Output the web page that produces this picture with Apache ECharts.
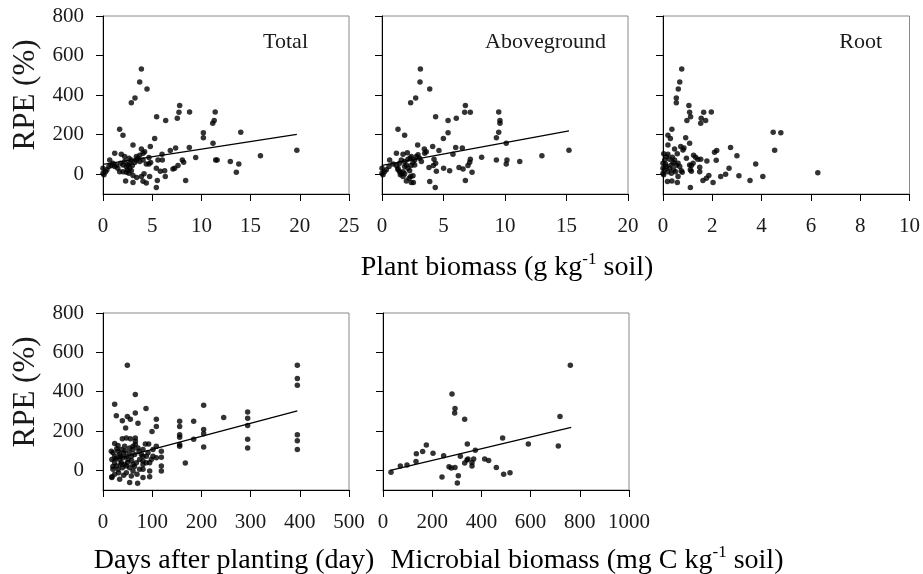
<!DOCTYPE html>
<html>
<head>
<meta charset="utf-8">
<script src="https://cdn.jsdelivr.net/npm/echarts@6/dist/echarts.min.js"></script>
<style>html,body{margin:0;padding:0;background:#fff}#c{width:923px;height:574px}</style>
</head>
<body>
<div id="c"></div>
<script>
// ---- Data ----
const yTicks = [0, 200, 400, 600, 800];
const panelLabels = ['Total', 'Aboveground', 'Root'];
const xMaxes = [25, 20, 10, 500, 1000];
const xIntervals = [5, 5, 2, 100, 200];

const totalPts = [[3.9,532],[3.73,466],[4.47,431],[3.25,385],[2.88,362],[7.79,348],[7.72,313],[8.8,315],[11.4,315],[7.55,283],[5.45,290],[6.37,271],[11.3,271],[11.15,258],[1.69,227],[2.03,197],[10.2,210],[10.2,184],[14.0,212],[5.25,180],[3.05,148],[4.81,140],[3.9,128],[7.38,133],[8.77,135],[6.84,120],[11.18,157],[1.19,106],[1.86,101],[4.23,114],[4.07,106],[6.0,101],[2.2,89],[0.68,72],[2.64,81],[3.39,89],[3.73,96],[4.67,84],[9.42,84],[16.0,93],[19.7,121],[5.59,72],[6.03,72],[8.06,72],[8.2,61],[11.45,72],[11.6,72],[12.94,64],[13.8,52],[4.67,52],[4.84,59],[7.62,44],[7.11,27],[7.28,30],[5.42,30],[5.83,15],[6.27,17],[6.33,-12],[13.55,10],[8.4,-32],[5.52,-32],[5.42,-67],[2.3,-34],[3.05,-42],[3.42,-17],[4.07,-35],[4.4,-44],[4.17,2],[4.74,-12],[3.9,-12],[3.05,-7],[0,5],[0,30],[0.1,-3],[0.27,13],[0.4,22],[0.6,39],[1.0,56],[1.35,44],[1.5,30],[1.69,13],[2.03,13],[2.37,10],[2.37,39],[2.54,47],[2.71,30],[2.88,18],[2.98,44],[3.22,59],[3.39,72],[3.56,81],[2.71,56],[2.88,72],[2.03,47],[1.19,39],[0.85,44],[2.2,64],[1.8,56],[2.47,22],[2.64,5],[3.73,64],[4.07,72],[4.4,52]];
const totalFit = [[0,50],[19.7,202]];

const abovePts = [[3.12,532],[3.09,466],[3.88,431],[2.74,385],[2.33,362],[6.78,348],[6.72,313],[7.18,313],[9.49,315],[9.59,271],[9.59,258],[5.37,271],[6.04,283],[4.36,290],[1.3,227],[1.84,197],[5.37,210],[9.49,212],[9.3,184],[4.99,180],[2.9,148],[4.12,140],[3.44,128],[5.99,135],[6.53,133],[4.63,120],[10.1,157],[1.17,106],[1.71,101],[2.06,109],[3.6,114],[3.47,106],[5.77,101],[0.62,72],[8.1,86],[13.0,93],[15.2,121],[9.3,72],[10.16,72],[10.1,52],[11.2,64],[7.18,76],[7.13,61],[6.99,44],[6.26,34],[6.59,27],[5.01,30],[5.5,17],[4.42,15],[7.32,10],[4.36,56],[4.23,76],[3.82,34],[4.17,44],[6.78,-32],[3.88,-37],[4.33,-67],[1.98,-34],[2.38,-42],[2.55,-42],[2.33,-12],[2.52,-8],[1.71,-12],[2.2,-20],[0,5],[0,30],[0.08,-3],[0.2,13],[0.35,22],[0.57,39],[0.9,52],[1.17,44],[1.3,30],[1.44,13],[1.57,5],[1.71,13],[1.84,39],[1.98,47],[2.11,30],[2.25,18],[2.38,44],[2.52,59],[2.66,72],[2.79,89],[2.93,98],[1.44,56],[1.57,72],[1.84,64],[2.11,76],[2.38,89],[1.3,22],[1.49,-3],[1.84,2],[3.06,81],[3.2,64],[2.3,81],[2.66,47]];
const aboveFit = [[0,45],[15.2,219]];

const rootPts = [[0.76,532],[0.68,466],[0.62,431],[0.54,385],[0.54,362],[1.05,348],[1.08,313],[1.65,313],[1.96,315],[1.12,290],[1.55,283],[1.73,271],[0.97,271],[1.53,258],[0.36,227],[0.2,197],[0.3,180],[0.92,184],[4.47,212],[4.78,210],[1.08,157],[0.2,148],[0.72,140],[0.85,133],[2.74,135],[0.81,123],[0.47,128],[4.53,121],[2.18,120],[2.09,111],[0.58,103],[3.0,93],[1.24,96],[1.32,86],[0.95,81],[1.53,76],[1.41,76],[1.78,67],[2.16,71],[3.76,52],[2.68,30],[1.08,47],[1.15,44],[1.22,56],[1.49,35],[1.49,13],[1.11,22],[1.15,15],[6.28,8],[2.54,0],[2.34,-12],[3.08,-8],[4.05,-12],[1.86,-7],[1.76,-20],[1.62,-32],[2.03,-42],[3.53,-32],[1.11,-67],[0.58,-42],[0.36,-34],[0.18,-37],[0.61,-12],[0.78,10],[0.74,18],[0,5],[0,30],[0.03,-3],[0.07,22],[0,56],[0.07,72],[0.14,89],[0.03,103],[0.2,101],[0.14,39],[0.27,30],[0.34,47],[0.41,59],[0.47,72],[0.38,86],[0.54,45],[0.61,56],[0.68,39],[0.43,22],[0.51,13],[0.34,5],[0.2,13],[0.27,76],[0.11,51]];

const daysPts = [[49.5,534],[395,534],[395,467],[395,433],[395,181],[395,151],[395,106],[65.7,386],[23.7,336],[87.4,314],[204.6,331],[27.1,277],[49.5,274],[55.6,260],[65.7,291],[108.4,260],[39.3,252],[71.1,240],[46,215],[108.4,223],[99.6,198],[155.8,249],[155.8,223],[155.8,181],[155.8,168],[155.8,131],[155.8,123],[184.3,249],[184.3,158],[204.6,207],[204.6,186],[204.6,119],[245.3,269],[294,296],[294,265],[294,228],[294,158],[294,114],[167.3,37],[118.6,97],[118.6,67],[118.6,22],[118.6,-3],[108.4,123],[108.4,64],[101.6,106],[92.8,134],[86,134],[81.3,106],[81.3,72],[81.3,47],[81.3,30],[81.3,5],[81.3,-37],[94.9,39],[94.9,-3],[94.9,-32],[70.4,-66],[54.2,-62],[65.7,165],[65.7,148],[65.7,131],[55.6,160],[47.4,165],[39.3,160],[61,123],[71.1,114],[23.7,136],[30.5,126],[16.9,97],[18,-32],[18,-37],[33.9,-45],[23.7,-20],[31.8,-12],[47.4,-12],[57.6,-29],[61,-3],[20.3,5],[27.1,22],[37.3,39],[44,30],[50.8,55],[57.6,72],[64.4,81],[67.8,39],[74.5,55],[18,55],[23.7,72],[33.9,81],[40.7,64],[47.4,72],[54.2,89],[30.5,97],[37.3,106],[20.3,89],[44,123],[54.2,114],[61,106],[73.2,97],[77.9,81],[47.4,22],[54.2,13],[30.5,5],[39.3,13],[61,30],[74.5,5],[69.1,-20],[42,-25],[23.7,39],[33.9,55],[88.1,39],[88.1,72],[91.5,89],[101.6,72],[98.2,55],[20,20],[26,60],[36,30],[42,90],[50,40],[58,50],[64,20],[28,110],[35,70],[45,100]];
const daysFit = [[18,52],[395,302]];

const microPts = [[761.5,534],[280.5,388],[292.7,314],[291.3,291],[332,260],[719.5,274],[486.4,165],[176.2,129],[342.8,134],[590.8,134],[712.7,124],[161.2,96],[203.3,87],[135.5,84],[375.3,102],[246.6,74],[314.4,71],[134.2,45],[332,37],[361.8,40],[341.5,52],[345.5,57],[368.6,57],[413.3,57],[429.5,50],[361.8,22],[268.3,18],[277.8,12],[292.7,15],[460.7,15],[70.5,22],[97.6,27],[32.5,-10],[239.8,-34],[306.2,-27],[302.2,-64],[490.5,-20],[516.3,-12]];
const microFit = [[30,0],[765,218]];

const scatterSets = [totalPts, abovePts, rootPts, daysPts, microPts];
const fitSets = [totalFit, aboveFit, null, daysFit, microFit];

// ---- Layout ----
const grids = [
  {left:103, top:16, width:246, height:178},
  {left:382, top:16, width:246, height:178},
  {left:663, top:16, width:247, height:178},
  {left:103, top:313, width:246, height:177},
  {left:383, top:313, width:246, height:177}
];
const FONT = 'Liberation Serif';
const TXT = '#1a1a1a';

const gridOpts = grids.map(g => Object.assign({show:true, borderColor:'#8a8a8a', borderWidth:1, backgroundColor:'transparent'}, g));

const xAxes = grids.map((g,i) => ({
  gridIndex:i, type:'value', min:0, max:xMaxes[i], interval:xIntervals[i],
  axisLine:{show:true, onZero:false, lineStyle:{color:'#000', width:1}},
  axisTick:{show:true, inside:false, length:7, lineStyle:{color:'#000', width:1}},
  axisLabel:{show:true, margin:22, fontSize:21, fontFamily:FONT, color:TXT, showMinLabel:true, showMaxLabel:true, hideOverlap:false,
    formatter: v => String(v)},
  splitLine:{show:false}
}));
const yAxes = grids.map((g,i) => ({
  gridIndex:i, type:'value', min:-100, max:800,
  axisLine:{show:true, onZero:false, lineStyle:{color:'#000', width:1}},
  axisTick:{show:true, inside:false, length:7, customValues:yTicks, lineStyle:{color:'#000', width:1}},
  axisLabel:{show:(i===0||i===3), customValues:yTicks, margin:19, fontSize:21, fontFamily:FONT, color:TXT,
    formatter: v => String(v)},
  splitLine:{show:false}
}));

const series = [];
scatterSets.forEach((pts,i) => {
  series.push({type:'scatter', xAxisIndex:i, yAxisIndex:i, data:pts, symbolSize:5.5,
    itemStyle:{color:'#000'}, silent:true, z:3});
  if (fitSets[i]) series.push({type:'line', xAxisIndex:i, yAxisIndex:i, data:fitSets[i], showSymbol:false,
    lineStyle:{color:'#000', width:1.3}, silent:true, z:4});
});

const richBase = {fontFamily:FONT, fontSize:28, color:TXT, lineHeight:34};
const richSup = {fontFamily:FONT, fontSize:17, color:TXT, lineHeight:34, verticalAlign:'top'};

const graphic = [
  {type:'text', right:923-308, top:31, style:{text:panelLabels[0], font:'22px "Liberation Serif"', fill:TXT}},
  {type:'text', right:923-606, top:31, style:{text:panelLabels[1], font:'22px "Liberation Serif"', fill:TXT}},
  {type:'text', right:923-882, top:31, style:{text:panelLabels[2], font:'22px "Liberation Serif"', fill:TXT}},
  {type:'text', x:26, y:95, rotation:Math.PI/2, style:{text:'RPE (%)', font:'31px "Liberation Serif"', fill:TXT, align:'center', verticalAlign:'middle'}},
  {type:'text', x:26, y:392, rotation:Math.PI/2, style:{text:'RPE (%)', font:'31px "Liberation Serif"', fill:TXT, align:'center', verticalAlign:'middle'}},
  {type:'text', x:507, y:268, style:{text:'{a|Plant biomass (g kg}{s|-1}{a| soil)}', rich:{a:richBase, s:richSup}, align:'center', verticalAlign:'middle'}},
  {type:'text', x:234, y:561, style:{text:'{a|Days after planting (day)}', rich:{a:richBase}, align:'center', verticalAlign:'middle'}},
  {type:'text', x:587, y:561, style:{text:'{a|Microbial biomass (mg C kg}{s|-1}{a| soil)}', rich:{a:richBase, s:richSup}, align:'center', verticalAlign:'middle'}}
];

const chart = echarts.init(document.getElementById('c'), null, {renderer:'canvas', width:923, height:574});
chart.setOption({
  animation:false,
  backgroundColor:'#fff',
  textStyle:{fontFamily:FONT},
  grid:gridOpts, xAxis:xAxes, yAxis:yAxes, series:series, graphic:graphic
});
</script>
</body>
</html>
